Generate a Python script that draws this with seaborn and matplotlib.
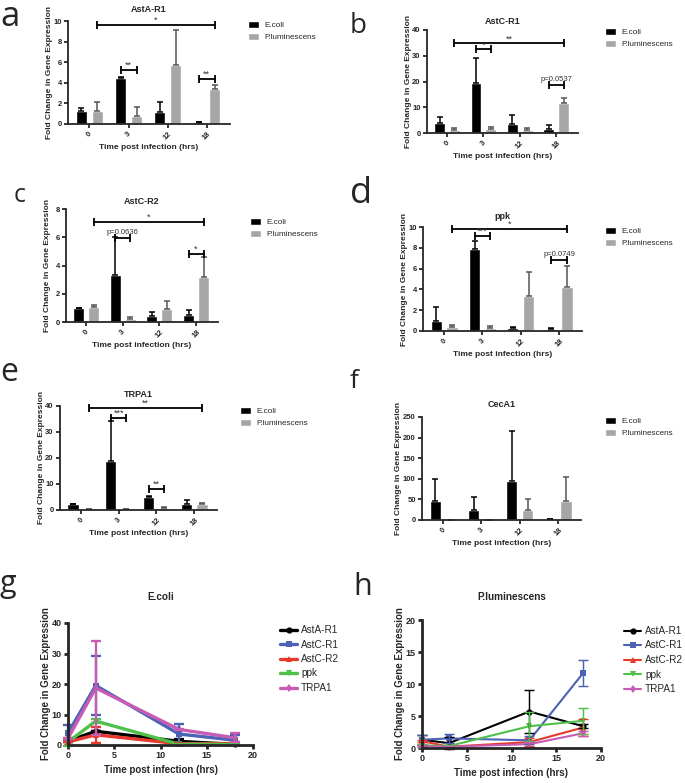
import numpy as np
import pandas as pd
import matplotlib
matplotlib.use("Agg")
import matplotlib.pyplot as plt
import seaborn as sns

times = ["0", "3", "12", "18"]
hours = [0, 3, 12, 18]
strains = ["E.coli", "P.luminescens"]
genes = ["AstA-R1", "AstC-R1", "AstC-R2", "ppk", "TRPA1"]

# mean fold change and SD, E.coli (ec) and P.luminescens (pl)
asta_ec = [1.3, 4.5, 1.2, 0.2]
asta_ec_sd = [0.3, 0.05, 0.9, 0.02]
asta_pl = [1.3, 0.75, 5.7, 3.4]
asta_pl_sd = [0.8, 0.9, 3.4, 0.35]

astc1_ec = [3.9, 19.5, 3.6, 1.6]
astc1_ec_sd = [2.5, 9.7, 3.3, 1.6]
astc1_pl = [1.3, 1.5, 1.2, 11.7]
astc1_pl_sd = [0.8, 0.7, 0.6, 2.0]

astc2_ec = [1.0, 3.35, 0.42, 0.5]
astc2_ec_sd = [0.02, 2.7, 0.28, 0.35]
astc2_pl = [1.08, 0.2, 0.92, 3.2]
astc2_pl_sd = [0.15, 0.15, 0.58, 1.4]

ppk_ec = [1.0, 7.85, 0.25, 0.18]
ppk_ec_sd = [1.3, 0.8, 0.15, 0.15]
ppk_pl = [0.42, 0.3, 3.4, 4.25]
ppk_pl_sd = [0.2, 0.15, 2.3, 2.0]

trpa_ec = [2.2, 18.7, 5.1, 2.4]
trpa_ec_sd = [0.1, 15.5, 0.1, 1.4]
trpa_pl = [0.3, 0.2, 0.6, 2.3]
trpa_pl_sd = [0.1, 0.1, 0.4, 0.4]

ceca_ec = [46, 25, 95, 3]
ceca_ec_sd = [54, 32, 120, 0]
ceca_pl = [1, 0.5, 24, 47]
ceca_pl_sd = [0, 0, 28, 57]

# significance brackets: (strain, time) -> (strain, time), height, label
asta_sig = [((1, 0), (1, 3), 9.6, "*"), ((0, 1), (1, 1), 5.25, "**"), ((0, 3), (1, 3), 4.35, "**")]
astc1_sig = [((1, 0), (1, 3), 34.8, "**"), ((0, 1), (1, 1), 32.5, "*"), ((0, 3), (1, 3), 18.7, "p=0.0537")]
astc2_sig = [((1, 0), (1, 3), 7.07, "*"), ((0, 1), (1, 1), 5.93, "p=0.0636"), ((0, 3), (1, 3), 4.82, "*")]
ppk_sig = [((1, 0), (1, 3), 9.8, "*"), ((0, 1), (1, 1), 9.16, "***"), ((0, 3), (1, 3), 6.85, "p=0.0749")]
trpa_sig = [((1, 0), (1, 3), 39.3, "**"), ((0, 1), (1, 1), 35.5, "***"), ((0, 2), (1, 2), 8.0, "**")]

EC, PL = "#000000", "#a6a6a6"
LINE_COLORS = ["#000000", "#4b62b5", "#e8382c", "#4fc04a", "#c75cb5"]
MARKERS = ["o", "s", "^", "v", "d"]

sns.set_theme(style="ticks")
plt.rcParams["font.family"] = ["Liberation Sans", "DejaVu Sans"]

W, H = 685, 783
fig = plt.figure(figsize=(W / 100, H / 100), dpi=100)


def px_axes(left, top, right, bottom):
    return fig.add_axes([left / W, 1 - bottom / H, (right - left) / W, (bottom - top) / H])


def style_axes(ax, title, title_size, title_pad, tick_size, label_size, lw, ylab_off=15):
    sns.despine(ax=ax)
    for s in ["left", "bottom"]:
        ax.spines[s].set_linewidth(lw)
    ax.tick_params(width=lw, length=3, labelsize=tick_size, pad=1.5)
    for t in ax.get_yticklabels() + ax.get_xticklabels():
        t.set_fontweight("bold")
    ax.set_title(title, fontsize=title_size, fontweight="bold", pad=title_pad)
    ax.set_ylabel("Fold Change in Gene Expression", fontsize=label_size, fontweight="bold")
    ax.set_xlabel("Time post infection (hrs)", fontsize=label_size, fontweight="bold")
    bb = ax.get_position()
    ax.yaxis.set_label_coords(-ylab_off / (bb.width * W), 0.5)
    ax.xaxis.set_label_coords(0.5, -20 / (bb.height * H))


def bar_panel(ax, title, ec, ec_sd, pl, pl_sd, ymax, ystep, sig, title_pad, leg_xy, ylab_off=15):
    df = pd.DataFrame({
        "time": times * 2,
        "strain": [strains[0]] * 4 + [strains[1]] * 4,
        "value": ec + pl,
    })
    sns.barplot(data=df, x="time", y="value", hue="strain", order=times, hue_order=strains,
                palette=[EC, PL], saturation=1, errorbar=None, width=0.82, gap=0.28, ax=ax)
    centers = [[p.get_x() + p.get_width() / 2 for p in c] for c in ax.containers[:2]]
    for k, (m, sd, col) in enumerate([(ec, ec_sd, "black"), (pl, pl_sd, "#555555")]):
        ax.errorbar(centers[k], m, yerr=[np.zeros(len(m)), sd], fmt="none", ecolor=col,
                    elinewidth=1.1, capsize=2.3, capthick=1.1, clip_on=False, zorder=1)
    for a, b, y, lab in sig:
        x1, x2 = centers[a[0]][a[1]], centers[b[0]][b[1]]
        ax.plot([x1, x2], [y, y], color="black", lw=1.3, marker="|", markersize=6,
                markeredgewidth=1.3, clip_on=False)
        small = lab.startswith("p")
        ax.annotate(lab, ((x1 + x2) / 2, y), xytext=(0, 1.5 if small else 0.0),
                    textcoords="offset points", ha="center", va="bottom",
                    fontsize=5.5 if small else 6.5, color="#333333", annotation_clip=False)
    ax.set_xlim(-0.55, 3.6)
    ax.set_ylim(0, ymax)
    ax.set_yticks(np.arange(0, ymax + ystep / 2, ystep))
    ax.set_xticks(range(4))
    ax.set_xticklabels(times, rotation=45, ha="center")
    sns.move_legend(ax, "upper left", bbox_to_anchor=(leg_xy[0] / W, 1 - leg_xy[1] / H),
                    bbox_transform=fig.transFigure, frameon=False, title=None, fontsize=5.9,
                    handlelength=1.4, handleheight=0.95, handletextpad=0.6, labelspacing=0.45,
                    borderpad=0, borderaxespad=0)
    style_axes(ax, title, 6.5, title_pad, 5.5, 6, 1.3, ylab_off)


def line_panel(ax, title, means, sds, lw, title_pad, leg_xy):
    df = pd.DataFrame({
        "hour": hours * len(genes),
        "gene": np.repeat(genes, len(hours)),
        "value": np.concatenate(means),
    })
    sns.lineplot(data=df, x="hour", y="value", hue="gene", style="gene", hue_order=genes,
                 style_order=genes, markers=MARKERS, dashes=False, palette=LINE_COLORS,
                 linewidth=lw, markersize=4.5, markeredgewidth=0, errorbar=None, ax=ax)
    for m, sd, col in zip(means, sds, LINE_COLORS):
        ax.errorbar(hours, m, yerr=sd, fmt="none", ecolor=col, elinewidth=lw * 0.7,
                    capsize=3.5, capthick=lw * 0.7, clip_on=False)
    for ln in ax.lines:
        ln.set_clip_on(False)
    ax.set_xlim(0, 20)
    ax.set_xticks([0, 5, 10, 15, 20])
    sns.move_legend(ax, "upper left", bbox_to_anchor=(leg_xy[0] / W, 1 - leg_xy[1] / H),
                    bbox_transform=fig.transFigure, frameon=False, title=None, fontsize=7.2,
                    handlelength=1.7, handletextpad=0.4, labelspacing=0.45,
                    borderpad=0, borderaxespad=0)
    style_axes(ax, title, 7.2, title_pad, 6.5, 7, 2.0, 17)


ax_a = px_axes(68, 21, 230, 124)
bar_panel(ax_a, "AstA-R1", asta_ec, asta_ec_sd, asta_pl, asta_pl_sd, 10, 2, asta_sig, 6.5, (248, 21))
ax_b = px_axes(427, 30, 578, 133)
bar_panel(ax_b, "AstC-R1", astc1_ec, astc1_ec_sd, astc1_pl, astc1_pl_sd, 40, 10, astc1_sig, 4.5, (605, 28))
ax_c = px_axes(66, 209, 218, 322)
bar_panel(ax_c, "AstC-R2", astc2_ec, astc2_ec_sd, astc2_pl, astc2_pl_sd, 8, 2, astc2_sig, 3.5, (250, 218))
ax_d = px_axes(423, 227, 582, 331)
bar_panel(ax_d, "ppk", ppk_ec, ppk_ec_sd, ppk_pl, ppk_pl_sd, 10, 2, ppk_sig, 6, (605, 227))
ax_e = px_axes(60, 406, 217, 510)
bar_panel(ax_e, "TRPA1", trpa_ec, trpa_ec_sd, trpa_pl, trpa_pl_sd, 40, 10, trpa_sig, 6.5, (240, 407))
ax_f = px_axes(422, 417, 581, 520)
bar_panel(ax_f, "CecA1", ceca_ec, ceca_ec_sd, ceca_pl, ceca_pl_sd, 250, 50, [], 7, (605, 417), 20)

ax_g = px_axes(68, 623, 253, 745)
line_panel(ax_g, "E.coli", [asta_ec, astc1_ec, astc2_ec, ppk_ec, trpa_ec],
           [asta_ec_sd, astc1_ec_sd, astc2_ec_sd, ppk_ec_sd, trpa_ec_sd], 2.4, 16.5, (280, 625))
ax_g.set_ylim(0, 40)
ax_g.set_yticks([0, 10, 20, 30, 40])
ax_h = px_axes(422, 620, 601, 748)
line_panel(ax_h, "P.luminescens", [asta_pl, astc1_pl, astc2_pl, ppk_pl, trpa_pl],
           [asta_pl_sd, astc1_pl_sd, astc2_pl_sd, ppk_pl_sd, trpa_pl_sd], 1.5, 14.5, (624, 626))
ax_h.set_ylim(0, 20)
ax_h.set_yticks([0, 5, 10, 15, 20])
for ax in (ax_g, ax_h):
    for t in ax.get_yticklabels() + ax.get_xticklabels():
        t.set_fontweight("bold")

# panel letters
letters = ["a", "b", "c", "d", "e", "f", "g", "h"]
letter_x = [0, 350, 14, 350, 0, 350, 0, 353]
letter_y = [26, 33, 202, 203, 381, 388, 592, 595]
letter_size = [25, 20, 18, 26, 23, 19, 22, 22]
for s, x, y, fs in zip(letters, letter_x, letter_y, letter_size):
    fig.text(x / W, 1 - y / H, s, fontsize=fs, family="Open Sans", ha="left", va="baseline")

fig.savefig("out.png", dpi=100)
